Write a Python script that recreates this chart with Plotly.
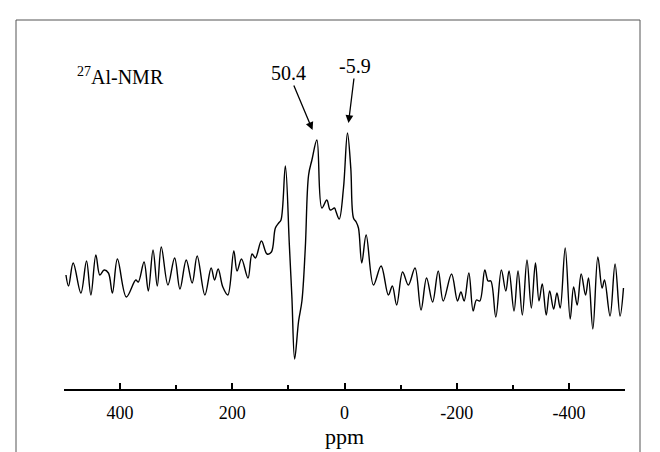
import plotly.graph_objects as go

# chemical shift (ppm) and intensity (arbitrary units)
ppm = [496.5, 491.9, 483.6, 469.9, 459.9, 452.1, 443.2, 436.1, 428.4, 420.8,
       413.7, 404.8, 388.8, 372.1, 367.5, 357.3, 349.7, 341.3, 333.7, 326.6,
       314.7, 302.8, 293.3, 282.1, 271.5, 262.6, 248.9, 237.7, 231.6, 225.2,
       216.9, 208.0, 197.3, 191.5, 183.6, 172.0, 164.8, 158.8, 148.1, 138.1,
       130.3, 123.2, 117.3, 113.2, 105.4, 98.3, 93.7, 88.9, 81.8, 75.9,
       69.9, 64.0, 58.1, 49.2, 40.4, 31.5, 25.4, 17.8, 15.5, 9.4,
       1.8, -5.3, -11.2, -16.0, -20.8, -24.9, -30.8, -38.6, -51.6, -65.2,
       -78.2, -85.3, -93.0, -103.6, -113.8, -125.7, -136.4, -146.3, -157.0, -167.1,
       -176.0, -190.8, -201.4, -207.5, -213.3, -221.7, -229.3, -235.2, -241.2, -250.1,
       -256.0, -260.8, -269.7, -279.6, -287.5, -293.3, -302.2, -309.3, -317.0, -325.3,
       -333.0, -340.4, -346.7, -352.5, -359.6, -365.7, -372.8, -378.7, -384.5, -393.4,
       -402.3, -408.4, -414.8, -421.9, -429.7, -435.0, -442.7, -451.6, -459.2, -463.5,
       -473.4, -482.3, -491.2, -497.3]
intensity = [114, 103, 126, 96, 128, 94, 134, 114, 119, 116,
             96, 130, 92, 109, 107, 127, 98, 139, 103, 142,
             104, 131, 100, 129, 106, 133, 94, 121, 109, 120,
             102, 94, 138, 118, 130, 111, 135, 131, 148, 135,
             137, 161, 166, 169, 223, 144, 91, 30, 68, 88,
             141, 214, 229, 249, 181, 189, 179, 181, 178, 170,
             201, 256, 221, 171, 167, 161, 126, 154, 104, 123,
             94, 103, 84, 117, 104, 121, 79, 111, 87, 118,
             88, 115, 88, 97, 88, 116, 78, 89, 88, 119,
             108, 108, 72, 119, 98, 118, 78, 118, 74, 129,
             81, 126, 88, 105, 74, 98, 80, 96, 81, 141,
             70, 102, 84, 115, 94, 111, 60, 132, 101, 109,
             73, 125, 73, 101]

major_ticks = [400, 200, 0, -200, -400]
minor_ticks = [500, 300, 100, -100, -300, -500]
peak_labels = ["50.4", "-5.9"]
peak_tips_ppm = [56.9, -7.1]
peak_tips_int = [259, 266]

FONT = '"Liberation Serif", "Times New Roman", Times, serif'

fig = go.Figure()
fig.add_trace(go.Scatter(
    x=ppm, y=intensity, mode="lines",
    line=dict(color="black", width=1.4, shape="spline", smoothing=1.0),
    hoverinfo="skip", showlegend=False))

fig.update_layout(
    width=660, height=452,
    margin=dict(l=56, r=43, t=111, b=71),
    paper_bgcolor="white", plot_bgcolor="white",
    font=dict(family=FONT, color="black", size=20),
    xaxis=dict(
        range=[500, -500], showgrid=False, zeroline=False,
        showline=True, linecolor="black", linewidth=1.5,
        tickmode="array", tickvals=major_ticks,
        ticktext=[str(t) for t in major_ticks],
        ticks="inside", ticklen=6, tickwidth=1.5, tickcolor="black",
        tickfont=dict(size=18, color="black"),
        ticklabelstandoff=7,
        minor=dict(tickmode="array", tickvals=minor_ticks, ticks="inside",
                   ticklen=4, tickwidth=1.5, tickcolor="black"),
        title=dict(text="ppm", font=dict(size=22, color="black"),
                   standoff=6),
    ),
    yaxis=dict(range=[0, 270], visible=False),
)

# peak labels with arrows
offsets = [(-24, -57), (7, -57)]
for lab, px, py, (ax, ay) in zip(peak_labels, peak_tips_ppm, peak_tips_int, offsets):
    fig.add_annotation(x=px, y=py, xref="x", yref="y", text=lab,
                       showarrow=True, ax=ax, ay=ay, arrowhead=2, arrowsize=1.2,
                       arrowwidth=1.3, arrowcolor="black",
                       font=dict(size=20, color="black"))

fig.add_annotation(x=0.02, y=1.16, xref="paper", yref="paper",
                   xanchor="left", yanchor="middle", showarrow=False,
                   text="<sup>27</sup>Al-NMR",
                   font=dict(size=20, color="black"))

# frame around the figure
frame = dict(color="#555555", width=1)
x0 = (8 - 56) / 561
x1 = (632 - 56) / 561
y_top = (381 - 12) / 270
y_bot = (381 - 452) / 270
fig.add_shape(type="line", xref="paper", yref="paper", x0=x0, x1=x1, y0=y_top, y1=y_top, line=frame)
fig.add_shape(type="line", xref="paper", yref="paper", x0=x0, x1=x0, y0=y_top, y1=y_bot, line=frame)
fig.add_shape(type="line", xref="paper", yref="paper", x0=x1, x1=x1, y0=y_top, y1=y_bot, line=frame)

fig.write_html("out.html")
